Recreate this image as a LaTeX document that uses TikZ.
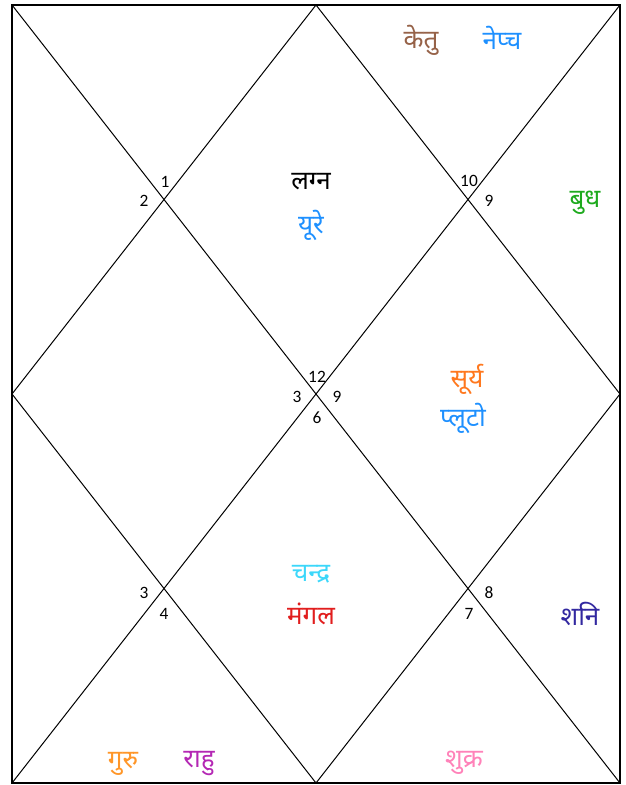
\documentclass[tikz,border=0pt]{standalone}
\usepackage{fontspec}
\setmainfont{Carlito}
\newfontfamily\dev[Script=Devanagari]{Noto Sans}
\definecolor{cketu}{RGB}{150,98,72}
\definecolor{cblue}{RGB}{30,144,255}
\definecolor{cgreen}{RGB}{30,170,30}
\definecolor{corange}{RGB}{255,120,30}
\definecolor{ccyan}{RGB}{60,215,250}
\definecolor{cred}{RGB}{225,30,30}
\definecolor{cnavy}{RGB}{50,40,160}
\definecolor{cguru}{RGB}{255,150,40}
\definecolor{crahu}{RGB}{180,40,180}
\definecolor{cpink}{RGB}{255,130,185}
\tikzset{
  num/.style={font=\fontsize{13}{15}\selectfont, inner sep=0pt},
  pl/.style={font=\dev\fontsize{19.5}{22}\selectfont, inner sep=0pt},
  chartline/.style={line width=0.75pt, black}
}
\begin{document}
\begin{tikzpicture}[x=0.75pt,y=-0.75pt]
\useasboundingbox (0,0) rectangle (625,785);
\coordinate (tl) at (12,5);
\coordinate (tr) at (620,5);
\coordinate (br) at (620,783);
\coordinate (bl) at (12,783);
\coordinate (tm) at (316,5);
\coordinate (rm) at (620,394);
\coordinate (bm) at (316,783);
\coordinate (lm) at (12,394);
\draw[line width=1.1pt] (tl) rectangle (br);
\draw[chartline] (tl) -- (br);
\draw[chartline] (tr) -- (bl);
\draw[chartline] (tm) -- (rm) -- (bm) -- (lm) -- cycle;
% house numbers
\node[num] (n1) at (165,182) {1};
\node[num] (n2) at (144,201) {2};
\node[num] (n10) at (469,181) {10};
\node[num] (n9a) at (489,201) {9};
\node[num] (n12) at (317,377) {12};
\node[num] (n3a) at (297,397) {3};
\node[num] (n9b) at (337,397) {9};
\node[num] (n6) at (317,418) {6};
\node[num] (n3b) at (144,593) {3};
\node[num] (n4) at (164,614) {4};
\node[num] (n8) at (489,593) {8};
\node[num] (n7) at (469,614) {7};
% planets
\node[pl, text=cketu] (ketu) at (421,40) {केतु};
\node[pl, text=cblue] (nep) at (502,38) {नेप्च};
\node[pl, text=black] (lagna) at (311,182) {लग्न};
\node[pl, text=cblue] (ura) at (311,225) {यूरे};
\node[pl, text=cgreen] (budh) at (585,203) {बुध};
\node[pl, text=corange] (surya) at (467,379) {सूर्य};
\node[pl, text=cblue] (pluto) at (463,418) {प्लूटो};
\node[pl, text=ccyan] (chandra) at (311,574) {चन्द्र};
\node[pl, text=cred] (mangal) at (311,614) {मंगल};
\node[pl, text=cnavy] (shani) at (580,614) {शनि};
\node[pl, text=cguru] (guru) at (123,764) {गुरु};
\node[pl, text=crahu] (rahu) at (199,764) {राहु};
\node[pl, text=cpink] (shukra) at (464,763) {शुक्र};
\end{tikzpicture}
\end{document}
